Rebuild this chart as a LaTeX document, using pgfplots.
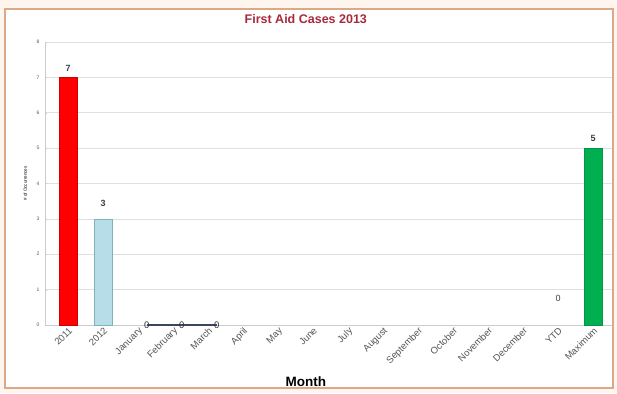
\documentclass[border=0pt]{standalone}
\usepackage{pgfplots}
\pgfplotsset{compat=1.18}
\usepackage{fontspec}
\setmainfont{Liberation Sans}
\definecolor{framec}{HTML}{D9A988}
\definecolor{peach}{HTML}{FDF5EE}
\definecolor{titlec}{HTML}{A8283C}
\definecolor{barred}{HTML}{FF0000}
\definecolor{barblue}{HTML}{B7DEE8}
\definecolor{bluedge}{HTML}{7FB3B8}
\definecolor{bargreen}{HTML}{00B050}
\definecolor{linec}{HTML}{3A4660}
\definecolor{tickc}{HTML}{555555}
\begin{document}
\begin{tikzpicture}
\useasboundingbox (0pt,0pt) rectangle (617pt,393pt);
\fill[peach] (0pt,0pt) rectangle (617pt,393pt);
\draw[framec, line width=2.5pt, fill=white] (5pt,5pt) rectangle (613pt,384pt);
\begin{axis}[
  at={(45pt,68pt)}, anchor=south west,
  scale only axis, width=567pt, height=283pt,
  xmin=-0.66, xmax=15.54, ymin=0, ymax=8,
  ytick={0,...,8},
  xtick={0,...,15},
  xticklabels={2011,2012,January,February,March,April,May,June,July,August,September,October,November,December,YTD,Maximum},
  x tick label style={rotate=45, anchor=north east, font=\fontsize{9.5}{10}\selectfont, text=tickc, inner sep=1pt},
  y tick label style={font=\fontsize{5}{6}\selectfont, text=tickc, xshift=-2pt},
  /pgf/number format/assume math mode=true,
  ymajorgrids, grid style={gray!25, line width=0.6pt},
  axis x line*=bottom, axis y line*=left,
  axis line style={gray!40},
  tick style={gray!40}, major tick length=2pt,
  xtick style={draw=none},
  title={\textbf{First Aid Cases 2013}},
  title style={text=titlec, font=\fontsize{12.5}{14}\selectfont, at={(axis description cs:0.46,1.03)}, anchor=south},
  xlabel={\textbf{Month}},
  xlabel style={font=\fontsize{13.5}{15}\selectfont, at={(axis description cs:0.46,-0.2)}, anchor=center},
  ylabel={\# of Occurrences},
  ylabel style={font=\fontsize{4.5}{5}\selectfont, at={(axis description cs:-0.035,0.5)}, anchor=center},
  nodes near coords,
  every node near coord/.append style={font=\fontsize{9}{10}\selectfont\bfseries, text=black!75},
  clip=false,
]
\addplot[ybar, bar width=18pt, fill=barred, draw=barred!80!black, bar shift=0pt,
  every node near coord/.append style={yshift=2pt}] coordinates {(0,7)};
\addplot[ybar, bar width=18pt, fill=barblue, draw=bluedge, bar shift=0pt,
  every node near coord/.append style={yshift=9pt}] coordinates {(1,3)};
\addplot[ybar, bar width=18pt, fill=bargreen, draw=bargreen!85!black, bar shift=0pt,
  every node near coord/.append style={yshift=3pt}] coordinates {(15,5)};
\addplot[ybar, bar width=18pt, draw=none, fill=none, bar shift=0pt,
  every node near coord/.append style={yshift=20pt, font=\fontsize{9}{10}\selectfont}] coordinates {(14,0)};
\addplot[linec, line width=1.2pt, mark=none,
  every node near coord/.append style={anchor=center, yshift=0pt, font=\fontsize{9.5}{10}\selectfont, text=black!80}]
  coordinates {(2.25,0) (3.25,0) (4.25,0)};
\end{axis}
\end{tikzpicture}
\end{document}
